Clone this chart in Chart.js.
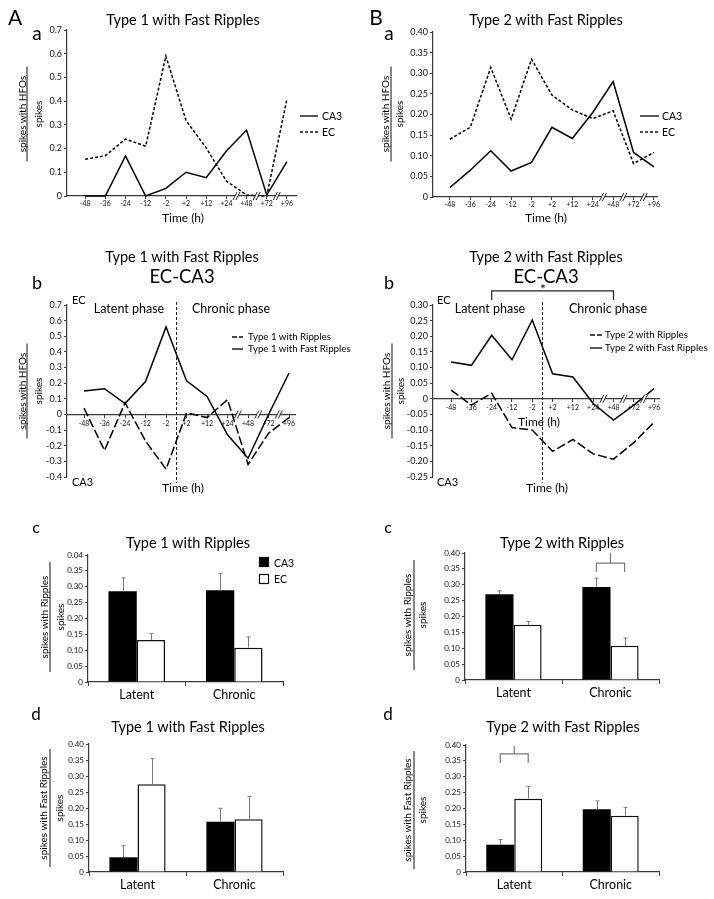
<!DOCTYPE html>
<html><head><meta charset="utf-8">
<script src="https://cdn.jsdelivr.net/npm/chart.js@4.4.1/dist/chart.umd.min.js"></script>
<style>
html,body{margin:0;padding:0;background:#fff;}
#fig{position:relative;width:714px;height:899px;overflow:hidden;background:#fff;font-family:Lato,"Open Sans",sans-serif;color:#000;}
canvas{position:absolute;}
.t{position:absolute;white-space:nowrap;transform:translate(-50%,-50%);line-height:1;}
.l{position:absolute;white-space:nowrap;transform:translate(0,-50%);line-height:1;}
.r{position:absolute;white-space:nowrap;transform:translate(-50%,-50%) rotate(-90deg);line-height:1;}
svg{position:absolute;left:0;top:0;}
</style></head>
<body><div id="fig"></div>
<script>
// ---------------- data ----------------
const timeCats = ["-48","-36","-24","-12","-2","+2","+12","+24","+48","+72","+96"];
const axisBreaksAfter = ["+24","+48","+72"];
// A a : Type 1 with Fast Ripples
const aaCA3 = [0, 0, 0.169, 0, 0.032, 0.100, 0.077, 0.190, 0.278, 0.004, 0.145];
const aaEC  = [0.155, 0.170, 0.240, 0.210, 0.590, 0.318, 0.203, 0.063, 0.004, 0, 0.408];
const aaYTicks = [0, 0.1, 0.2, 0.3, 0.4, 0.5, 0.6, 0.7];
const aaYLabels = ["0","0.1","0.2","0.3","0.4","0.5","0.6","0.7"];
// B a : Type 2 with Fast Ripples
const baCA3 = [0.023, 0.065, 0.112, 0.063, 0.084, 0.169, 0.142, 0.205, 0.280, 0.108, 0.073];
const baEC  = [0.140, 0.169, 0.314, 0.189, 0.334, 0.247, 0.211, 0.190, 0.209, 0.081, 0.108];
const baYTicks = [0, 0.05, 0.10, 0.15, 0.20, 0.25, 0.30, 0.35, 0.40];
const baYLabels = ["0","0.05","0.10","0.15","0.20","0.25","0.30","0.35","0.40"];
// A b : EC-CA3, type 1
const abRipples = [0.04, -0.23, 0.075, -0.17, -0.35, 0.01, -0.02, 0.095, -0.32, -0.12, -0.02];
const abFast    = [0.15, 0.165, 0.07, 0.21, 0.56, 0.215, 0.115, -0.13, -0.28, 0.0, 0.265];
const abYTicks = [-0.4,-0.3,-0.2,-0.1,0,0.1,0.2,0.3,0.4,0.5,0.6,0.7];
const abYLabels = ["-0.4","-0.3","-0.2","-0.1","0","0.1","0.2","0.3","0.4","0.5","0.6","0.7"];
// B b : EC-CA3, type 2
const bbRipples = [0.028, -0.02, 0.018, -0.092, -0.10, -0.168, -0.13, -0.176, -0.193, -0.14, -0.075];
const bbFast    = [0.118, 0.107, 0.203, 0.125, 0.252, 0.080, 0.070, -0.015, -0.068, -0.02, 0.033];
const bbYTicks = [-0.25,-0.20,-0.15,-0.10,-0.05,0,0.05,0.10,0.15,0.20,0.25,0.30];
const bbYLabels = ["-0.25","-0.20","-0.15","-0.10","-0.05","0","0.05","0.10","0.15","0.20","0.25","0.30"];
// bar panels
const phaseCats = ["Latent","Chronic"];
const barYTicks = [0,0.05,0.10,0.15,0.20,0.25,0.30,0.35,0.40];
const barYLabels = ["0","0.05","0.10","0.15","0.20","0.25","0.30","0.35","0.40"];
const acYLabels  = ["0","0.05","0.10","0.15","0.20","0.25","0.30","0.35","0.04"];
const acCA3 = [0.286, 0.289], acCA3Err = [0.042, 0.053];
const acEC  = [0.132, 0.108], acECErr  = [0.021, 0.034];
const bcCA3 = [0.270, 0.293], bcCA3Err = [0.011, 0.028];
const bcEC  = [0.174, 0.108], bcECErr  = [0.010, 0.024];
const adCA3 = [0.046, 0.157], adCA3Err = [0.036, 0.042];
const adEC  = [0.274, 0.165], adECErr  = [0.080, 0.071];
const bdCA3 = [0.086, 0.198], bdCA3Err = [0.016, 0.026];
const bdEC  = [0.231, 0.177], bdECErr  = [0.039, 0.026];

// ---------------- helpers ----------------
const fig = document.getElementById('fig');
const FONT = 'Lato';
const ML = 40, MT = 22, MR = 14, MB = 30;
const AX = '#3a3a3a';

const deco = {
  id: 'deco',
  afterDatasetsDraw(chart, args, o) {
    const ctx = chart.ctx, xs = chart.scales.x, ys = chart.scales.y, ca = chart.chartArea;
    ctx.save();
    if (o.phaseLine !== undefined) {
      const px = Math.round(xs.getPixelForValue(o.phaseLine)) + 0.5;
      ctx.strokeStyle = '#222'; ctx.lineWidth = 1; ctx.setLineDash([3, 2]);
      ctx.beginPath(); ctx.moveTo(px, ca.top - 3); ctx.lineTo(px, ca.bottom + 6); ctx.stroke();
      ctx.setLineDash([]);
    }
    if (o.breaks) {
      const py = o.breakY !== undefined ? ys.getPixelForValue(o.breakY) : ca.bottom;
      o.breaks.forEach(b => {
        const px = xs.getPixelForValue(b);
        ctx.fillStyle = '#fff';
        ctx.beginPath(); ctx.moveTo(px - 3.5, py + 4); ctx.lineTo(px + 0.5, py - 4);
        ctx.lineTo(px + 3.5, py - 4); ctx.lineTo(px - 0.5, py + 4); ctx.closePath(); ctx.fill();
        ctx.strokeStyle = '#222'; ctx.lineWidth = 1;
        [-1.5, 1.5].forEach(d => { ctx.beginPath(); ctx.moveTo(px + d - 2, py + 4); ctx.lineTo(px + d + 2, py - 4); ctx.stroke(); });
      });
    }
    if (o.bracket) {
      const b = o.bracket;
      const x1 = xs.getPixelForValue(b.from), x2 = xs.getPixelForValue(b.to);
      const y = ys.getPixelForValue(b.y), yl = ys.getPixelForValue(b.leg);
      ctx.strokeStyle = '#222'; ctx.lineWidth = 1.2;
      ctx.beginPath(); ctx.moveTo(x1, yl); ctx.lineTo(x1, y); ctx.lineTo(x2, y); ctx.lineTo(x2, yl); ctx.stroke();
    }
    if (o.errors) {
      o.errors.forEach((errs, di) => {
        const meta = chart.getDatasetMeta(di);
        meta.data.forEach((bar, i) => {
          const v = chart.data.datasets[di].data[i];
          const top = ys.getPixelForValue(v + errs[i]);
          const x = Math.round(bar.x) + 0.5;
          ctx.strokeStyle = '#7a7a7a'; ctx.lineWidth = 1;
          ctx.beginPath(); ctx.moveTo(x, bar.y); ctx.lineTo(x, top);
          ctx.moveTo(x - 2, top); ctx.lineTo(x + 2, top); ctx.stroke();
        });
      });
    }
    if (o.sig) {
      const s = o.sig;
      const b0 = chart.getDatasetMeta(0).data[s.index], b1 = chart.getDatasetMeta(1).data[s.index];
      const yb = ys.getPixelForValue(s.y), yl = ys.getPixelForValue(s.leg), yt = ys.getPixelForValue(s.stem);
      ctx.strokeStyle = '#777'; ctx.lineWidth = 1.2;
      ctx.beginPath(); ctx.moveTo(b0.x, yl); ctx.lineTo(b0.x, yb); ctx.lineTo(b1.x, yb); ctx.lineTo(b1.x, yl);
      const mx = (b0.x + b1.x) / 2; ctx.moveTo(mx, yb); ctx.lineTo(mx, yt); ctx.stroke();
    }
    ctx.restore();
  }
};

function makeCanvas(box) {
  const c = document.createElement('canvas');
  const x = box.left - ML, y = box.top - MT;
  const w = box.right - box.left + ML + MR, h = box.bottom - box.top + MT + MB;
  c.width = w; c.height = h;
  c.style.left = x + 'px'; c.style.top = y + 'px'; c.style.width = w + 'px'; c.style.height = h + 'px';
  fig.appendChild(c);
  return c;
}

function yScale(ticks, labels, fs) {
  return {
    min: ticks[0], max: ticks[ticks.length - 1],
    afterBuildTicks: s => { s.ticks = ticks.map(v => ({ value: v })); },
    afterFit: s => { s.width = ML; },
    ticks: { callback: (v, i) => labels[i], font: { family: FONT, size: fs }, color: '#111', padding: 2, autoSkip: false },
    grid: { display: true, drawOnChartArea: false, drawTicks: true, tickLength: 3, color: AX, lineWidth: 1 },
    border: { display: true, color: AX, width: 1.2 }
  };
}

const idx = c => timeCats.indexOf(c);

function lineChart(box, cfg) {
  const cv = makeCanvas(box);
  const zero = cfg.zeroAxis;
  new Chart(cv, {
    type: 'line',
    data: {
      datasets: cfg.series.map(s => ({
        data: s.values.map((v, i) => ({ x: i, y: v })),
        borderColor: '#000', borderWidth: 1.5, borderDash: s.dash || [],
        pointRadius: 0, tension: 0, fill: false, clip: false
      }))
    },
    options: {
      responsive: false, animation: false, events: [],
      layout: { padding: { left: 0, top: MT, right: MR, bottom: zero ? MB : 0 } },
      plugins: {
        legend: { display: false }, tooltip: { enabled: false }, title: { display: false },
        deco: cfg.deco
      },
      scales: {
        x: {
          type: 'linear', position: zero ? { y: 0 } : 'bottom', min: cfg.xmin, max: cfg.xmax,
          afterBuildTicks: s => { s.ticks = timeCats.map((c, i) => ({ value: i })); },
          afterFit: s => { if (!zero) s.height = MB; },
          ticks: { callback: (v, i) => timeCats[i], font: { family: FONT, size: 7 }, color: '#111', padding: zero ? 2 : 1, maxRotation: 0, autoSkip: false },
          grid: { display: true, drawOnChartArea: false, drawTicks: true, tickLength: 3, color: AX },
          border: { display: true, color: AX, width: 1.2 }
        },
        y: yScale(cfg.yTicks, cfg.yLabels, 9)
      }
    },
    plugins: [deco]
  });
}

function barChart(box, cfg) {
  const cv = makeCanvas(box);
  new Chart(cv, {
    type: 'bar',
    data: {
      labels: phaseCats,
      datasets: [
        { label: 'CA3', data: cfg.ca3, backgroundColor: '#000', borderColor: '#000', borderWidth: 0 },
        { label: 'EC', data: cfg.ec, backgroundColor: '#fff', borderColor: '#111', borderWidth: 1.5 }
      ]
    },
    options: {
      responsive: false, animation: false, events: [],
      layout: { padding: { left: 0, top: MT, right: MR, bottom: 0 } },
      datasets: { bar: { categoryPercentage: 0.58, barPercentage: 1.0 } },
      plugins: {
        legend: { display: false }, tooltip: { enabled: false }, title: { display: false },
        deco: { errors: [cfg.ca3Err, cfg.ecErr], sig: cfg.sig }
      },
      scales: {
        x: {
          afterFit: s => { s.height = MB; },
          ticks: { font: { family: FONT, size: 12.5 }, color: '#000', padding: 1 },
          grid: { display: true, offset: true, drawOnChartArea: false, drawTicks: true, tickLength: 4, color: AX },
          border: { display: true, color: AX, width: 1.2 }
        },
        y: yScale(barYTicks, cfg.yLabels, 8)
      }
    },
    plugins: [deco]
  });
}

const breaks = axisBreaksAfter.map(c => idx(c) + 0.5);
const phaseMid = idx("-2") + 0.5;

// ---------------- charts ----------------
lineChart({ left: 67, top: 30, right: 296, bottom: 196 }, {
  xmin: -0.9, xmax: 10.45, yTicks: aaYTicks, yLabels: aaYLabels,
  series: [{ values: aaCA3 }, { values: aaEC, dash: [3, 2] }],
  deco: { breaks }
});
lineChart({ left: 433, top: 32, right: 657, bottom: 197 }, {
  xmin: -0.83, xmax: 10.15, yTicks: baYTicks, yLabels: baYLabels,
  series: [{ values: baCA3 }, { values: baEC, dash: [3, 2] }],
  deco: { breaks }
});
lineChart({ left: 67, top: 305, right: 295, bottom: 477 }, {
  zeroAxis: true, xmin: -0.83, xmax: 10.29, yTicks: abYTicks, yLabels: abYLabels,
  series: [{ values: abRipples, dash: [9, 3] }, { values: abFast }],
  deco: { breaks, breakY: 0, phaseLine: phaseMid }
});
lineChart({ left: 433, top: 305, right: 659, bottom: 477 }, {
  zeroAxis: true, xmin: -0.89, xmax: 10.24, yTicks: bbYTicks, yLabels: bbYLabels,
  series: [{ values: bbRipples, dash: [9, 3] }, { values: bbFast }],
  deco: { breaks, breakY: 0, phaseLine: phaseMid, bracket: { from: idx("-24"), to: idx("+48"), y: 0.345, leg: 0.316 } }
});
barChart({ left: 88, top: 555, right: 283, bottom: 682 }, { ca3: acCA3, ec: acEC, ca3Err: acCA3Err, ecErr: acECErr, yLabels: acYLabels });
barChart({ left: 465, top: 553, right: 659, bottom: 680 }, { ca3: bcCA3, ec: bcEC, ca3Err: bcCA3Err, ecErr: bcECErr, yLabels: barYLabels,
  sig: { index: 1, y: 0.368, leg: 0.34, stem: 0.40 } });
barChart({ left: 89, top: 744, right: 283, bottom: 872 }, { ca3: adCA3, ec: adEC, ca3Err: adCA3Err, ecErr: adECErr, yLabels: barYLabels });
barChart({ left: 466, top: 745, right: 659, bottom: 872 }, { ca3: bdCA3, ec: bdEC, ca3Err: bdCA3Err, ecErr: bdECErr, yLabels: barYLabels,
  sig: { index: 0, y: 0.372, leg: 0.343, stem: 0.397 } });

// ---------------- text & decorations ----------------
function T(text, x, y, size, cls) {
  const d = document.createElement('div');
  d.className = cls || 't'; d.textContent = text;
  d.style.left = x + 'px'; d.style.top = y + 'px'; d.style.fontSize = size + 'px';
  fig.appendChild(d);
}
const L = (text, x, y, size) => T(text, x, y, size, 'l');
const svgNS = 'http://www.w3.org/2000/svg';
const svg = document.createElementNS(svgNS, 'svg');
svg.setAttribute('width', 714); svg.setAttribute('height', 899);
fig.appendChild(svg);
function line(x1, y1, x2, y2, dash, w) {
  const e = document.createElementNS(svgNS, 'line');
  e.setAttribute('x1', x1); e.setAttribute('y1', y1); e.setAttribute('x2', x2); e.setAttribute('y2', y2);
  e.setAttribute('stroke', '#111'); e.setAttribute('stroke-width', w || 1.4);
  if (dash) e.setAttribute('stroke-dasharray', dash);
  svg.appendChild(e);
}
function rect(x, y, w, h, fill) {
  const e = document.createElementNS(svgNS, 'rect');
  e.setAttribute('x', x); e.setAttribute('y', y); e.setAttribute('width', w); e.setAttribute('height', h);
  e.setAttribute('fill', fill); e.setAttribute('stroke', '#111'); e.setAttribute('stroke-width', 1.2);
  svg.appendChild(e);
}
function frac(xn, xl, xd, cy, num, den, len) {
  T(num, xn, cy, 10, 'r');
  T(den, xd, cy, 10, 'r');
  line(xl, cy - len / 2, xl, cy + len / 2, null, 1);
}

// Row a
T('A', 15, 16, 21); T('a', 37, 32, 19);
T('B', 376, 16, 21); T('a', 389, 32, 19);
T('Type 1 with Fast Ripples', 183, 20, 14.5);
T('Type 2 with Fast Ripples', 546, 20, 14.5);
T('Time (h)', 183, 218, 12); T('Time (h)', 546, 218, 12);
line(300, 116, 318, 116); line(300, 132, 318, 132, '3,2');
L('CA3', 322, 116, 10.5); L('EC', 322, 132, 10.5);
line(640, 116, 659, 116); line(640, 132, 659, 132, '3,2');
L('CA3', 662, 116, 10.5); L('EC', 662, 132, 10.5);
frac(21.5, 27, 37.5, 114, 'spikes with HFOs', 'spikes', 95);
frac(385, 391, 399, 114, 'spikes with HFOs', 'spikes', 95);

// Row b
T('b', 37, 282, 18); T('b', 389, 282, 18);
T('Type 1 with Fast Ripples', 182, 257, 14.5); T('EC-CA3', 182, 276, 18.5);
T('Type 2 with Fast Ripples', 546, 257, 14.5); T('EC-CA3', 546, 276, 18.5);
L('EC', 72, 299, 11); L('CA3', 72, 481, 11);
L('EC', 437, 299, 11); L('CA3', 437, 481, 11);
T('Latent phase', 129, 309, 12.5); T('Chronic phase', 231, 309, 12.5);
T('Latent phase', 490, 309, 12.5); T('Chronic phase', 608, 309, 12.5);
T('*', 543, 289, 14);
line(232, 337, 243, 337, '5,2'); line(232, 349, 243, 349);
L('Type 1 with Ripples', 248, 337, 9.7); L('Type 1 with Fast Ripples', 248, 349, 9.7);
line(590, 335, 602, 335, '5,2'); line(590, 348, 602, 348);
L('Type 2 with Ripples', 605, 335, 9.7); L('Type 2 with Fast Ripples', 605, 348, 9.7);
T('Time (h)', 539, 422, 12);
T('Time (h)', 183, 488, 12); T('Time (h)', 547, 488, 12);
frac(21.5, 27, 37.5, 391, 'spikes with HFOs', 'spikes', 95);
frac(386, 392, 400, 391, 'spikes with HFOs', 'spikes', 95);

// Row c
T('c', 36, 527, 16); T('c', 388, 527, 16);
T('Type 1 with Ripples', 188, 543, 14.5); T('Type 2 with Ripples', 562, 543, 14.5);
rect(259.5, 557.5, 9, 9, '#000'); rect(259.5, 574.5, 9, 9, '#fff');
L('CA3', 274, 563, 10.5); L('EC', 274, 579, 10.5);
frac(44, 50, 60, 617, 'spikes with Ripples', 'spikes', 110);
frac(407, 414, 422, 615, 'spikes with Ripples', 'spikes', 110);

// Row d
T('d', 36, 713, 17); T('d', 388, 713, 17);
T('Type 1 with Fast Ripples', 188, 727, 14.5); T('Type 2 with Fast Ripples', 563, 727, 14.5);
frac(43, 50, 58.5, 808, 'spikes with Fast Ripples', 'spikes', 118);
frac(407, 414, 422, 810, 'spikes with Fast Ripples', 'spikes', 118);
</script>
</body></html>
